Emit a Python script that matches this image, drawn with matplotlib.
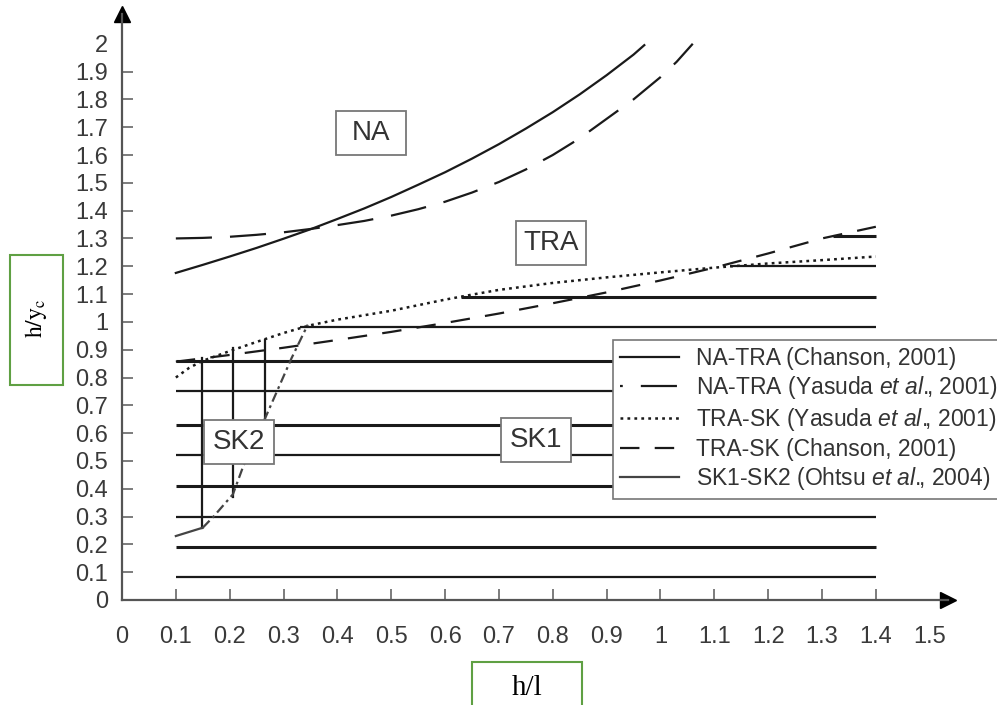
import numpy as np
import matplotlib.pyplot as plt
from matplotlib.lines import Line2D
from matplotlib.patches import Rectangle

plt.rcParams['font.family'] = ['Liberation Sans', 'DejaVu Sans']
plt.rcParams['mathtext.fontset'] = 'custom'
plt.rcParams['mathtext.rm'] = 'Liberation Sans'
plt.rcParams['mathtext.it'] = 'Liberation Sans:italic'
plt.rcParams['lines.scale_dashes'] = False

# NA-TRA (Chanson, 2001)
natra_ch_x = [0.1, 0.15, 0.2, 0.25, 0.3, 0.35, 0.4, 0.45, 0.5, 0.55, 0.6, 0.65, 0.7,
              0.75, 0.8, 0.85, 0.9, 0.95, 0.97]
natra_ch_y = [1.176, 1.205, 1.235, 1.266, 1.299, 1.333, 1.37, 1.408, 1.449, 1.493, 1.538,
              1.587, 1.639, 1.695, 1.754, 1.818, 1.887, 1.961, 1.995]
# NA-TRA (Yasuda et al., 2001)
natra_ya_x = [0.1, 0.15, 0.2, 0.25, 0.3, 0.35, 0.4, 0.45, 0.5, 0.55, 0.6, 0.65, 0.7,
              0.75, 0.8, 0.85, 0.9, 0.95, 1.0, 1.03, 1.06]
natra_ya_y = [1.30, 1.302, 1.306, 1.313, 1.322, 1.334, 1.348, 1.363, 1.382, 1.405, 1.432,
              1.465, 1.503, 1.548, 1.60, 1.66, 1.73, 1.80, 1.88, 1.935, 2.0]
# TRA-SK (Yasuda et al., 2001)
trask_ya_x = [0.1, 0.125, 0.15, 0.2, 0.25, 0.3, 0.35, 0.4, 0.45, 0.5, 0.55, 0.6, 0.65,
              0.7, 0.8, 0.9, 1.0, 1.1, 1.2, 1.3, 1.4]
trask_ya_y = [0.80, 0.835, 0.86, 0.895, 0.928, 0.96, 0.988, 1.008, 1.024, 1.04, 1.06, 1.08,
              1.098, 1.115, 1.14, 1.16, 1.178, 1.195, 1.21, 1.222, 1.235]
# TRA-SK (Chanson, 2001)
trask_ch_x = [0.1, 0.2, 0.3, 0.4, 0.5, 0.6, 0.7, 0.8, 0.9, 1.0, 1.1, 1.2, 1.3, 1.4]
trask_ch_y = [0.857, 0.881, 0.907, 0.935, 0.964, 0.996, 1.03, 1.067, 1.106, 1.149, 1.195,
              1.246, 1.30, 1.342]
# SK1-SK2 (Ohtsu et al., 2004)
sk_x = [0.1, 0.15, 0.17, 0.206, 0.225, 0.265, 0.29, 0.315, 0.33, 0.345]
sk_y = [0.23, 0.26, 0.30, 0.38, 0.48, 0.65, 0.76, 0.87, 0.93, 0.99]

# horizontal bars
bar_y = [0.083, 0.19, 0.30, 0.41, 0.52, 0.63, 0.75, 0.86, 0.98, 1.09, 1.20, 1.31]
bar_x0 = [0.1, 0.1, 0.1, 0.1, 0.1, 0.1, 0.1, 0.1, 0.33, 0.63, 1.13, 1.32]
bar_x1 = 1.4
# vertical bars
vbar_x = [0.148, 0.206, 0.265]
vbar_y0 = [0.26, 0.37, 0.65]
vbar_y1 = [0.87, 0.905, 0.935]

regions = ['NA', 'TRA', 'SK2', 'SK1']
region_x = [0.462, 0.797, 0.217, 0.769]
region_y = [1.68, 1.282, 0.569, 0.576]

xticks = [0, 0.1, 0.2, 0.3, 0.4, 0.5, 0.6, 0.7, 0.8, 0.9, 1.0, 1.1, 1.2, 1.3, 1.4, 1.5]
xlabels = ['0', '0.1', '0.2', '0.3', '0.4', '0.5', '0.6', '0.7', '0.8', '0.9', '1',
           '1.1', '1.2', '1.3', '1.4', '1.5']
yticks = [round(0.1 * i, 1) for i in range(21)]
ylabels = ['0', '0.1', '0.2', '0.3', '0.4', '0.5', '0.6', '0.7', '0.8', '0.9', '1',
           '1.1', '1.2', '1.3', '1.4', '1.5', '1.6', '1.7', '1.8', '1.9', '2']

W, H = 997, 705
fig = plt.figure(figsize=(W / 100, H / 100), dpi=100)
ax = fig.add_axes([122 / W, 105 / H, 826 / W, 586 / H])
ax.set_xlim(0, 1.534)
ax.set_ylim(0, 2.107)

dark = '#1a1a1a'
for i, (y, x0) in enumerate(zip(bar_y, bar_x0)):
    lw = 2.2 if i % 2 == 1 else 1.6
    ax.plot([x0, bar_x1], [y, y], color=dark, lw=lw, solid_capstyle='butt')
for x, y0, y1 in zip(vbar_x, vbar_y0, vbar_y1):
    ax.plot([x, x], [y0, y1], color=dark, lw=1.6)

ax.plot(natra_ch_x, natra_ch_y, color=dark, lw=1.6)
ax.plot(natra_ya_x, natra_ya_y, color=dark, lw=1.6, dashes=(26, 13))
ax.plot(trask_ya_x, trask_ya_y, color=dark, lw=1.8, dashes=(2, 3))
ax.plot(trask_ch_x, trask_ch_y, color=dark, lw=1.6, dashes=(14, 11))
ax.plot(sk_x[:2], sk_y[:2], color='#444444', lw=1.6)
ax.plot(sk_x[1:], sk_y[1:], color='#444444', lw=1.6, dashes=(7, 3, 2, 3))

bw, bh = 70 / 538.5, 44 / 278
for name, x, y in zip(regions, region_x, region_y):
    ax.add_patch(Rectangle((x - bw / 2, y - bh / 2), bw, bh, fc='white',
                           ec='#777777', lw=1.3, zorder=4))
    ax.text(x, y, name, ha='center', va='center', fontsize=20,
            color='#333333', zorder=5)

for s in ['top', 'right']:
    ax.spines[s].set_visible(False)
for s in ['left', 'bottom']:
    ax.spines[s].set_color('#555555')
    ax.spines[s].set_linewidth(1.6)
ax.plot(1, 0, '>', color='black', ms=11, transform=ax.transAxes, clip_on=False)
ax.plot(0, 1, '^', color='black', ms=11, transform=ax.transAxes, clip_on=False)

ax.set_xticks(xticks)
ax.set_xticklabels(xlabels)
ax.set_yticks(yticks)
ax.set_yticklabels(ylabels)
ax.tick_params(axis='both', direction='in', length=8, width=1.2, color='#666666',
               labelsize=17, labelcolor='#3a3a3a')
ax.tick_params(axis='x', pad=19)
ax.tick_params(axis='y', pad=10)
for t in [ax.get_xaxis().get_major_ticks()[i] for i in (0, 15)]:
    t.tick1line.set_visible(False)
for t in [ax.get_yaxis().get_major_ticks()[i] for i in (0, 20)]:
    t.tick1line.set_visible(False)

handles = [
    Line2D([], [], color=dark, lw=1.6),
    Line2D([], [], color=dark, lw=1.6, linestyle=(24, (26, 13))),
    Line2D([], [], color=dark, lw=1.8, dashes=(2, 3)),
    Line2D([], [], color=dark, lw=1.6, dashes=(14, 11)),
    Line2D([], [], color='#444444', lw=1.6),
]
labels = ['NA-TRA (Chanson, 2001)',
          r'$\text{NA-TRA (Yasuda }\mathit{et\ al.}\!\!\text{, 2001)}$',
          r'$\text{TRA-SK (Yasuda }\mathit{et\ al.}\!\!\text{, 2001)}$',
          'TRA-SK (Chanson, 2001)',
          r'$\text{SK1-SK2 (Ohtsu }\mathit{et\ al.}\!\!\text{, 2004)}$']
leg = fig.legend(handles, labels, loc='upper left', bbox_to_anchor=(613 / W, 1 - 340 / H),
                 borderaxespad=0, fontsize=16.5, handlelength=2.6, handletextpad=0.7,
                 labelspacing=0.2, borderpad=0.3, fancybox=False, framealpha=1,
                 edgecolor='#777777', labelcolor='#333333')
leg.get_frame().set_linewidth(1.2)

green = '#5fa043'
fig.add_artist(Rectangle((10 / W, 1 - 385 / H), 53 / W, 130 / H, transform=fig.transFigure,
                         fill=False, ec=green, lw=1.5))
fig.text(36 / W, 1 - 318 / H, r'$\mathrm{h/y_c}$', rotation=90, ha='center', va='center',
         fontsize=17, math_fontfamily='stix')
fig.add_artist(Rectangle((472 / W, 1 - 712 / H), 110 / W, 50 / H, transform=fig.transFigure,
                         fill=False, ec=green, lw=1.5))
fig.text(527 / W, 1 - 688 / H, 'h/l', ha='center', va='center', fontsize=21,
         family='Liberation Serif')

fig.savefig('out.png', dpi=100)
